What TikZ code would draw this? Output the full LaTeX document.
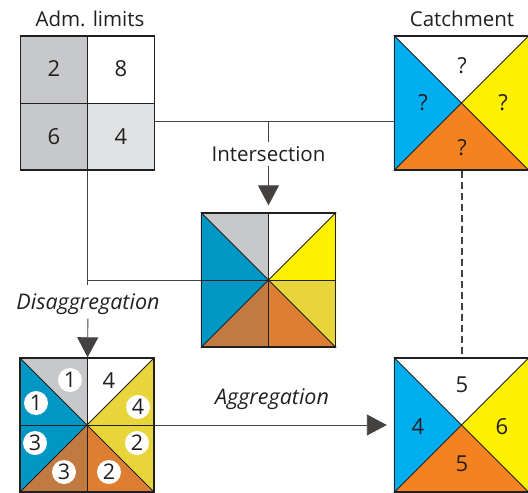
\documentclass[tikz,border=0pt]{standalone}
\usepackage{fontspec}
\setmainfont{Open Sans}
\usetikzlibrary{arrows.meta,backgrounds,positioning}

\definecolor{ink}{HTML}{231F20}
\definecolor{admgray}{HTML}{C7C8CA}
\definecolor{admlight}{HTML}{E1E2E3}
\definecolor{cblue}{HTML}{00AEEF}
\definecolor{cyellow}{HTML}{FFF200}
\definecolor{corange}{HTML}{F58220}
\definecolor{iblue}{HTML}{0097C5}
\definecolor{imustard}{HTML}{E8D53A}
\definecolor{ibrown}{HTML}{C17B40}
\definecolor{iorange}{HTML}{DD7E33}

\begin{document}
\begin{tikzpicture}[x=1pt,y=-1pt,
  box/.style={draw=ink,line width=1.4pt,minimum size=134pt,inner sep=0pt},
  link/.style={draw=ink!85,line width=0.9pt},
  cut/.style={draw=ink,line width=0.8pt},
  tip/.style={-{Triangle[width=21pt,length=20pt]}},
  lbl/.style={font=\fontsize{20.5}{24}\selectfont,text=ink},
  slbl/.style={font=\fontsize{21.5}{24}\selectfont\itshape,text=ink},
  num/.style={font=\fontsize{22}{24}\selectfont,text=ink},
  dot/.style={circle,fill=white,minimum size=24pt,inner sep=0pt,
    font=\fontsize{21.5}{24}\selectfont,text=ink}]
  \useasboundingbox (0,0) rectangle (528,493);

  \node[lbl] (ladm) at (90,19) {Adm. limits};
  \node[lbl] (lcat) at (462,19) {Catchment};

% administrative units
  \node[box] (adm) at (87.5,103) {};
  \begin{scope}[on background layer]
    \fill[admgray] (adm.north west) rectangle (adm.south);
    \fill[admlight] (adm.center) rectangle (adm.south east);
  \end{scope}
  \draw[cut] (adm.north) -- (adm.south);
  \draw[cut] (adm.west) -- (adm.east);
  \node[num] (a2) at (54,69) {2};
  \node[num] (a8) at (121,69) {8};
  \node[num] (a6) at (54,137) {6};
  \node[num] (a4) at (121,137) {4};

% catchment
  \node[box] (catch) at (461.5,103) {};
  \begin{scope}[on background layer]
    \fill[cblue] (catch.north west) -- (catch.center) -- (catch.south west) -- cycle;
    \fill[cyellow] (catch.north east) -- (catch.center) -- (catch.south east) -- cycle;
    \fill[corange] (catch.south west) -- (catch.center) -- (catch.south east) -- cycle;
  \end{scope}
  \draw[cut] (catch.north west) -- (catch.south east);
  \draw[cut] (catch.north east) -- (catch.south west);
  \node[num] (qt) at (462,66) {?};
  \node[num] (ql) at (423,103) {?};
  \node[num] (qr) at (503,103) {?};
  \node[num] (qb) at (462,148) {?};

% intersection
  \node[box] (inter) at (268.5,280) {};
  \begin{scope}[on background layer]
    \fill[admgray] (inter.north west) -- (inter.north) -- (inter.center) -- cycle;
    \fill[iblue] (inter.north west) -- (inter.center) -- (inter.south west) -- cycle;
    \fill[cyellow] (inter.north east) -- (inter.east) -- (inter.center) -- cycle;
    \fill[imustard] (inter.east) -- (inter.south east) -- (inter.center) -- cycle;
    \fill[ibrown] (inter.south west) -- (inter.south) -- (inter.center) -- cycle;
    \fill[iorange] (inter.south) -- (inter.south east) -- (inter.center) -- cycle;
  \end{scope}
  \draw[cut] (inter.north west) -- (inter.south east);
  \draw[cut] (inter.north east) -- (inter.south west);
  \draw[cut] (inter.north) -- (inter.south);
  \draw[cut] (inter.west) -- (inter.east);

% disaggregation
  \node[box] (dis) at (87,425) {};
  \begin{scope}[on background layer]
    \fill[admgray] (dis.north west) -- (dis.north) -- (dis.center) -- cycle;
    \fill[iblue] (dis.north west) -- (dis.center) -- (dis.south west) -- cycle;
    \fill[imustard] (dis.north east) -- (dis.south east) -- (dis.center) -- cycle;
    \fill[ibrown] (dis.south west) -- (dis.south) -- (dis.center) -- cycle;
    \fill[iorange] (dis.south) -- (dis.south east) -- (dis.center) -- cycle;
  \end{scope}
  \draw[cut] (dis.north west) -- (dis.south east);
  \draw[cut] (dis.north east) -- (dis.south west);
  \draw[cut] (dis.north) -- (dis.south);
  \draw[cut] (dis.west) -- (dis.east);
  \node[dot] (d1a) at (70,380) {1};
  \node[dot] (d1b) at (36,403) {1};
  \node[num] (d4a) at (109,381) {4};
  \node[dot] (d4b) at (138,407) {4};
  \node[dot] (d3a) at (35,443) {3};
  \node[dot] (d3b) at (64,472) {3};
  \node[dot] (d2a) at (109,472) {2};
  \node[dot] (d2b) at (137,443) {2};

% aggregation
  \node[box] (agg) at (461.5,425) {};
  \begin{scope}[on background layer]
    \fill[cblue] (agg.north west) -- (agg.center) -- (agg.south west) -- cycle;
    \fill[cyellow] (agg.north east) -- (agg.center) -- (agg.south east) -- cycle;
    \fill[corange] (agg.south west) -- (agg.center) -- (agg.south east) -- cycle;
  \end{scope}
  \draw[cut] (agg.north west) -- (agg.south east);
  \draw[cut] (agg.north east) -- (agg.south west);
  \node[num] (gt) at (462,385) {5};
  \node[num] (gl) at (418,427) {4};
  \node[num] (gr) at (502,427) {6};
  \node[num] (gb) at (462,464) {5};

% connectors
  \draw[link] ([yshift=-18pt]adm.east) -- ([yshift=-18pt]catch.west);
  \coordinate (jtop) at (268.5,121);
  \node[lbl,fill=white,inner sep=4pt] (lint) at (268.5,154) {Intersection};
  \draw[link] (jtop) -- (lint);
  \draw[link,tip,shorten >=7pt] (lint) -- (inter);
  \coordinate (jleft) at (adm.south |- inter.west);
  \draw[link] (adm.south) -- ([yshift=-5pt]jleft);
  \draw[link] (jleft) -- (inter.west);
  \node[slbl,inner sep=4pt] (ldis) at (88,304) {Disaggregation};
  \draw[link,tip] (ldis) -- (dis);
  \node[slbl] (lagg) at (272,399) {Aggregation};
  \draw[link,tip,shorten >=7pt] (dis.east) -- (agg.west);
  \draw[link,line width=2pt,dash pattern=on 7pt off 4pt] (catch.south) -- (agg.north);
\end{tikzpicture}
\end{document}
